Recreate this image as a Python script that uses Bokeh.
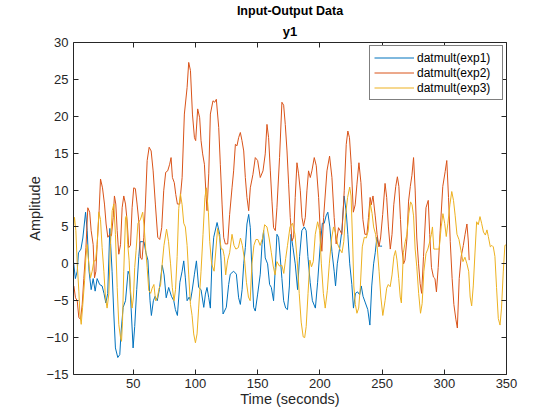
from bokeh.plotting import figure
from bokeh.models import Range1d, LinearAxis, Title, Legend, LegendItem, FixedTicker
from bokeh.embed import file_html
from bokeh.resources import INLINE

# ---- data ----
t_exp1 = [2, 3.5, 5, 6, 8, 9.5, 11.7, 13, 14.5, 16.2, 17.8, 19.4, 21, 23, 25, 26.5, 28, 29.5, 31.2, 33,
          34.4, 35.7, 37.6, 39.2, 40.3, 41.9, 43.8, 45.9, 47, 48.3, 49.9, 51.2, 52.8, 54.5, 55.5, 57.2, 58.7,
          60.2, 61.8, 63.5, 64.6, 66.2, 67.6, 69.3, 71, 73.3, 74.8, 76.5, 78.5, 80.7, 82.6, 83.9, 85.5, 87.5,
          89.3, 90.6, 91.9, 93.3, 95, 96, 97.3, 99.2, 100.8, 102.6, 104.5, 106.7, 108, 109.3, 110.7, 112,
          113.3, 114.7, 117.4, 119.5, 120.6, 122.2, 124.8, 126.7, 128, 130.7, 132.9, 134.7, 136.1, 137.5,
          138.8, 140.1, 141.4, 142.8, 144.1, 145.4, 146.8, 148.1, 150, 152.1, 153.5, 154.8, 156.1, 158,
          159.6, 161, 162.8, 164.2, 165.5, 166.8, 168.2, 169.5, 170.9, 172.5, 174, 175.5, 176.8, 178.4,
          180.2, 182.1, 183.7, 185.5, 187.5, 189, 190.4, 192.2, 194, 196.4, 198.2, 200.3, 202, 203.5, 205,
          206.4, 208, 209.7, 211.5, 212.6, 214, 215.8, 217.7, 219.5, 221.2, 222.5, 224, 225.7, 227, 228.6,
          230.3, 232, 233.3, 234.7, 236.6, 238.5, 240.2, 241.7, 243.2, 244.5, 245.8, 247, 248.5, 250]
v_exp1 = [0.3, -2, -1, 1.5, 2, 3.5, 7, 4.5, -1, -3.5, -2, -3.7, -2, -2.8, -3, -4, -5.3, -4, 4.8, -1,
          -6.8, -11.4, -12.7, -12.3, -9.1, -5.9, -5, -1, -1.5, -6, -11.4, -8.5, -3.5, 1, 3, 3, 3,
          1.5, 0.5, -5, -7, -5, -4.4, -5, -3.5, -0.2, -1.5, -4.6, -3.2, -4.4, -5, -6.2, -7, -2.5,
          -1, 0.4, -1.9, -5, -4.5, -5, -3.7, -1.4, 0.4, -3.2, -3.5, -5.9, -4.1, -3.2, -4.6, -6,
          0.4, 3.6, 5.6, 4, 0.4, -6.8, -5.9, -2.8, -1.4, -1, -1.4, -4.6, -5.5, -3.5,
          0, 2.2, 5.4, 6.7, 4.9, -1, -5.9, -6.4, -4.1, -1.4, 2.6, 4.5, 0.8, 0,
          -2.8, -3.2, -5, -0.5, 4, 3.6, 0.8, -2, -5, -6, -6.2, -3, 4, 2.2,
          0, -3.5, 1, 4.5, 5, 4.5, 1, -2.5, -5, -6, -2.5, 2.5, 5.5, 5.5, 6.5,
          7, 5, 1.7, -1, -3, 0, 2, 4.5, 9.2, 7, 4, 0, -2.8, -6, -4,
          -3.8, -4.2, -3, -4.4, -5.3, -6.2, -8.3, -3, 0, 1.5, 3.6, 2.6, 2.4, 2.4]

t_exp2 = [2.3, 3.6, 5, 6.3, 7.7, 9, 10.3, 12, 13.5, 15, 16.2, 17.8, 18.9, 20, 21, 22.6, 23.7, 25.3, 26.9,
          28.2, 29.6, 31.2, 32.5, 33.9, 34.9, 36, 37.1, 38.4, 39.8, 41.1, 42.4, 43.8, 45.1, 46.4, 47.8, 49.1,
          50.4, 51.7, 53.1, 54.7, 55.8, 57.1, 58.5, 59.8, 61.2, 62.8, 64.4, 66, 67.8, 69.7, 71.3, 72.9, 74.5,
          76.1, 77.7, 79.3, 80.4, 81.5, 83, 84.2, 85.5, 87.4, 89.3, 91.1, 93.3, 94.6, 96, 97.6, 99.2, 100.2,
          101.8, 103.4, 104.5, 105.8, 107.2, 108.5, 109.3, 110.7, 112, 114.1, 115.5, 116.8, 118.7, 120, 121.4,
          122.7, 124, 125.9, 127.5, 129.4, 130.7, 132.1, 133.4, 134.7, 136.1, 137.4, 138.8, 140.1, 141.4,
          142.8, 144.1, 146.2, 148.1, 150, 152.1, 154.3, 156.1, 157.5, 158.8, 160.2, 161.5, 162.8, 164.2,
          165.5, 167.6, 169.5, 170.9, 172.2, 173.6, 174.9, 176.2, 177.6, 178.9, 180.2, 181.6, 182.9, 184.3,
          185.6, 186.9, 188.3, 189.6, 190.9, 192.3, 193.6, 195.5, 197.1, 199, 200.3, 201.6, 203, 205.7,
          207.8, 209.7, 211.5, 213.1, 215, 216.3, 217.7, 219.6, 221.2, 222.5, 223.8, 225.2, 226.9, 228.4,
          229.8, 231.4, 233, 234.6, 236.2, 237.8, 239.1, 240.4, 241.3, 242.7, 244.5, 246, 247.5, 248.8,
          250.5, 252.4, 253.7, 255.1, 256.6, 258, 259.4, 261, 262.3, 263.5, 264.8, 266, 267.3, 268.4, 270,
          271.3, 272.7, 274, 275.3, 276.6, 277.9, 279.3, 280.6, 281.8, 283.3, 285.3, 287.1, 288.3, 289.7,
          291.3, 292.5, 293.7, 295.1, 296.7, 298.8, 300.7, 302, 303.4, 304.8, 306.3, 307.7, 309.3, 310.5,
          312, 313.6, 315.3, 316.7, 318.2, 319.3, 320]
v_exp2 = [-3, -4.6, -5, -7.3, -7.5, -5.5, -2, 2.2, 7.6, 7, 4.5, 2.6, -1.9, -1, 2.6, 7.2, 11.5, 10.3, 8.1,
          5.4, 3.6, 4, 3.8, 6.3, 9.2, 8.1, 4.5, 1.3, 2.6, 7.6, 9.2, 8.1, 5.8, 2.2, 2.5, 7.6,
          10.3, 10.2, 8.1, 5.4, 0.8, 0.6, 3.6, 8.1, 14, 15.8, 15.3, 12.6, 8.1, 3.6, 3.3, 4.9, 9.9,
          12.4, 12.6, 13.5, 14.4, 11.7, 11, 9.4, 8.1, 8.1, 11.7, 20.3, 23.9, 27.3, 26.2, 20.3, 17.1, 16.7,
          21, 19.8, 16.7, 14.9, 13.5, 9.4, 7.2, 12.2, 20.3, 22.1, 21.9, 22.3, 18.5, 13.5, 8.1,
          3.6, 2.7, 2.7, 6.7, 10.3, 12.6, 16.2, 16, 17.1, 17.8, 16.7, 15.3, 11.7, 9,
          7.2, 10.3, 12.1, 14.4, 14, 11.7, 12.6, 14.9, 18.9, 17.1, 12.6, 8.5, 4.9, 4.5,
          7.6, 14.4, 21.9, 21.5, 18.9, 15.3, 10.8, 6.3, 3.1, 3.6, 9, 13.7, 12.2, 9.9,
          6.3, 5.1, 6.3, 9.9, 12.6, 11.7, 12.6, 14.4, 13.3, 9, 4.5, 1.7, 6.3, 12.6,
          14.6, 11.7, 6.3, 2.7, 4.9, 4.5, 4, 9.9, 16.2, 18, 17.1, 13.5, 7, 8,
          10.8, 13.7, 11, 6, 4, 4, 6.3, 9, 8, 9.2, 6.5, 4, 2.3, 3.5,
          6.7, 10.9, 9, 5, 2, 4, 8, 10.5, 11.8, 10.5, 6, 2, 0, 0.5, 3.5,
          8.5, 10.5, 12, 14.4, 10, 3.5, 0, -2.7, -4, 1, 7.6, 8.6, 4, -0.5,
          -1.8, -2, -3.8, -0.5, 4.5, 10.5, 12.5, 14, 9, 3, -2, -5.5, -7.5, -8.7,
          -2, 1, 2.5, 4, 5.4, 3.1, 0.5]

t_exp3 = [2, 2.8, 3.9, 5, 6.3, 7.1, 8.2, 9.3, 10.9, 11.9, 13, 14.3, 15.7, 17, 18.4, 19.7, 21, 22.4, 23.7,
          25, 26.4, 27.7, 29, 30.4, 31.7, 33.1, 34.4, 35.7, 37.1, 38.4, 39.8, 40.6, 41.4, 42.4, 43.8, 44.6,
          45.6, 46.7, 47.8, 49.1, 50.2, 51.2, 52.3, 53.8, 55.8, 57.6, 58.8, 60, 61.2, 62.5, 64, 65.2, 66.6,
          68, 69.3, 70.8, 72, 73.3, 74.7, 76.8, 78.4, 80, 81.4, 82.8, 84, 85.3, 86.6, 87.9, 89.3, 90.6, 91.9,
          93.3, 94.6, 96, 97.3, 98.6, 100, 101.3, 102.6, 104.5, 106.1, 107.6, 108.8, 110.4, 111.5, 113, 115,
          116.5, 117.8, 119.5, 120.7, 122, 123.2, 124.3, 125.9, 127.5, 129.4, 131, 132.5, 134.5, 136.2,
          137.7, 139.5, 141, 142.6, 144, 145.4, 147, 148.6, 150.2, 152, 154, 155.6, 157.5, 159.2, 161,
          162.5, 164, 165.5, 167.5, 169.5, 171, 172.5, 174, 176, 178, 180, 181.8, 183.4, 185, 186.6, 187.8,
          189, 190.5, 192, 193.3, 194.7, 196.3, 198.2, 199.8, 201.2, 202.8, 204.3, 206, 207.6, 209.5, 211,
          212.6, 214.2, 216, 217.8, 219.2, 220.6, 222.3, 224, 225.1, 226.5, 227.3, 228.5, 229.8, 231.2,
          232.5, 234.1, 235.7, 237.3, 238.9, 240.5, 242, 243.2, 244.8, 246.2, 247.6, 249, 250.6, 252.4,
          253.7, 255, 256.5, 258, 259.5, 260.8, 262, 263.4, 264.6, 265.5, 267.1, 268.6, 270, 271.5, 272.9,
          274.1, 275.3, 276.6, 277.9, 279.4, 280.9, 282.2, 283.6, 285.3, 286.8, 288, 289.6, 290.5, 291.6,
          293.1, 294.5, 295.9, 297.5, 298.9, 300.3, 301.6, 302.9, 304.5, 306, 307.4, 308.7, 310.2, 311.8,
          313.4, 315, 316.6, 318.2, 319.6, 320.8, 322, 323.3, 324.7, 326, 327.3, 328.7, 330, 331.5, 333,
          334.3, 335.4, 337, 338.2, 339.4, 340.7, 342, 343.4, 344.8, 346, 347.4, 348.7, 350]
v_exp3 = [5, 6.3, 4.5, 0, -3.7, -6.8, -8.2, -5.9, -2.3, 0.8, 2.6, 0, -1.9, -1, 0.4, 0.4, 2.6, 7, 6,
          2.2, -1, -4.6, -6, -4.1, 2.6, 7.2, 8.1, 4, -3.2, -8.2, -10, -10.5, -7.8, -1, 6.3, 6.5,
          2.6, 0.5, -3.6, -6, -4.5, -0.5, 1.8, 5.5, 6, 7, 5, 2, -0.5, -3.6, -4, -3.3, -2.8,
          -5, -4.7, -3.3, -2.9, 0, 2.5, 4.7, 3, 0, -3.2, -5, -3.5, 1, 7.5, 9.5, 8, 5.5, 5,
          2.5, -1.5, -5.5, -7, -9.5, -10.7, -9.5, -6, -1, 4, 9, 10.3, 7, 3, 0, -1,
          2, 4.8, 3.5, 2, 2, 1, -1.5, 0.5, 1.5, 4, 2.5, 2, 2.2, 3.5,
          2.5, 0.5, -2.5, -4.5, -5, 0, 2.5, 3.3, 3.3, 2.5, 3.5, 5.3, 5, 3.5, 1.5,
          -0.3, -1.5, 0.3, -0.3, -0.2, -1.3, 0.7, 2.5, 5, 5.5, 4, 0.5, -4, -7.9, -9.9, -10,
          -8.5, -4, 0.5, -0.4, 0.3, 4, 5.7, 4.5, 0, -4, -6, -3.6, 0, 3.5, 5,
          4.2, 2.7, 2, 1.5, 3, 6.5, 9, 10.4, 9.2, 2, -3, -5.5, -6.7, -6,
          -3.2, 2.3, 3.6, 3.5, 4.5, 8.2, 6.8, 5, 4, 2, -1, -4.5, -7, -5,
          -3.3, -2.8, -3.1, -1.5, 1, 1.8, 0.5, -2, -4.5, -5.3, 1.5, 3, 4, 6.8, 8.4,
          8, 6.5, 2, -0.4, -4, -6.7, -5.4, -1, 1.4, 2, 2.8, 4, 5, 2,
          2, 2, 2, 5, 6.8, 5.5, 3.7, 5.5, 8, 9.8, 8.6, 6.6, 4, 3.3,
          1.8, 0.3, 0.9, 0, -1, -4.5, -5.7, -3, 1.6, 5.7, 5.3, 6.4, 5.5, 4.3, 3.9,
          4.6, 3.7, 2.3, 2.5, 2.3, 1, -3.2, -7.4, -8.3, -6, -1.1, 2.5, 2.6]

series_labels = ["datmult(exp1)", "datmult(exp2)", "datmult(exp3)"]
x_ticks = [50, 100, 150, 200, 250, 300, 350]
y_ticks = [-15, -10, -5, 0, 5, 10, 15, 20, 25, 30]

# ---- styling ----
FONT = "Liberation Sans"
AX = "#262626"
colors = ["#0072BD", "#D95319", "#EDB120"]

p = figure(frame_width=433, frame_height=332,
           x_range=Range1d(2, 350), y_range=Range1d(-15, 30),
           output_backend="svg", toolbar_location=None, title=None,
           min_border_left=73, min_border_right=40, min_border_bottom=39, min_border_top=0)
p.background_fill_color = "white"
p.border_fill_color = "white"
p.outline_line_color = None
p.xgrid.visible = False
p.ygrid.visible = False

renderers = []
for tt, vv, c in [(t_exp1, v_exp1, colors[0]), (t_exp2, v_exp2, colors[1]), (t_exp3, v_exp3, colors[2])]:
    renderers.append(p.line(tt, vv, line_color=c, line_width=1))

def style_axis(ax, ticks, labels=True):
    ax.ticker = FixedTicker(ticks=ticks)
    ax.minor_tick_line_color = None
    ax.major_tick_in = 5
    ax.major_tick_out = 0
    ax.axis_line_color = AX
    ax.major_tick_line_color = AX
    ax.axis_line_width = 1
    if labels:
        ax.major_label_text_font = FONT
        ax.major_label_text_font_size = "13px"
        ax.major_label_text_color = AX
    else:
        ax.major_label_text_font_size = "0px"
        ax.major_label_overrides = {t: "" for t in ticks}
        ax.major_label_standoff = 0

style_axis(p.xaxis[0], x_ticks)
style_axis(p.yaxis[0], y_ticks)
p.xaxis[0].major_label_standoff = 4
p.yaxis[0].major_label_standoff = 5
p.xaxis[0].axis_label = "Time (seconds)"
p.yaxis[0].axis_label = "Amplitude"
for ax in (p.xaxis[0], p.yaxis[0]):
    ax.axis_label_text_font = FONT
    ax.axis_label_text_font_size = "14.5px"
    ax.axis_label_text_font_style = "normal"
    ax.axis_label_text_color = AX
p.xaxis[0].axis_label_standoff = 0
p.yaxis[0].axis_label_standoff = 0

ra = LinearAxis()
style_axis(ra, y_ticks, labels=False)
p.add_layout(ra, "right")
ta = LinearAxis()
style_axis(ta, x_ticks, labels=False)
p.add_layout(ta, "above")

p.add_layout(Title(text="y1", align="center", text_font=FONT, text_font_size="13px",
                   text_font_style="bold", text_color="#000000", standoff=7), "above")
p.add_layout(Title(text="Input-Output Data", align="center", offset=-7, text_font=FONT,
                   text_font_size="12.5px", text_font_style="bold", text_color="#000000",
                   standoff=2), "above")

legend = Legend(items=[LegendItem(label=lab, renderers=[r]) for lab, r in zip(series_labels, renderers)],
                location="top_right", margin=3, padding=4, spacing=0,
                glyph_width=40, glyph_height=15, label_height=15, label_width=81, label_standoff=3,
                label_text_font=FONT, label_text_font_size="12px", label_text_color="#000000",
                border_line_color="#000000", border_line_width=1,
                background_fill_color="white", background_fill_alpha=1)
p.add_layout(legend)

open("out.html", "w").write(file_html(p, INLINE))
